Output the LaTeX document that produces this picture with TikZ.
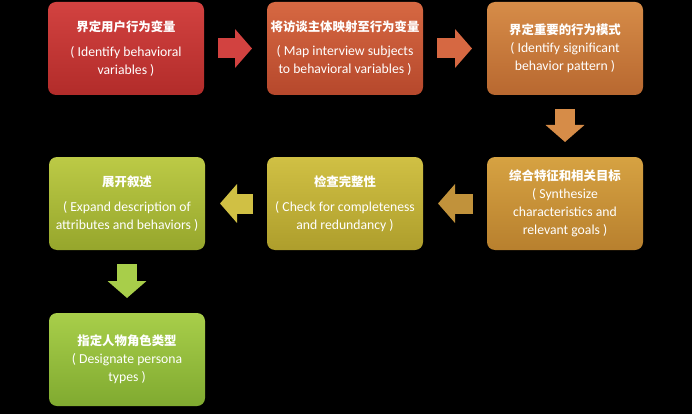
\documentclass[tikz,border=0pt]{standalone}
\usepackage{fontspec}
\setmainfont{Carlito}
\newfontfamily\cjk{Noto Sans CJK SC}
\usepackage{xcolor}
\usetikzlibrary{arrows.meta, positioning}

\definecolor{redtop}{RGB}{210,66,64}
\definecolor{redbot}{RGB}{178,44,42}
\definecolor{rusttop}{RGB}{214,104,66}
\definecolor{rustbot}{RGB}{182,72,44}
\definecolor{orangetop}{RGB}{214,140,72}
\definecolor{orangebot}{RGB}{184,104,48}
\definecolor{goldtop}{RGB}{214,162,66}
\definecolor{goldbot}{RGB}{184,128,46}
\definecolor{mustardtop}{RGB}{208,192,68}
\definecolor{mustardbot}{RGB}{174,158,44}
\definecolor{limetop}{RGB}{188,202,70}
\definecolor{limebot}{RGB}{150,166,44}
\definecolor{greentop}{RGB}{168,206,74}
\definecolor{greenbot}{RGB}{128,170,48}

\newcommand{\boxtitle}[1]{{\cjk\bfseries\fontsize{12.4}{14}\selectfont #1}}

\begin{document}
\begin{tikzpicture}[x=1pt, y=-1pt, node distance=63pt,
    box/.style={rectangle, rounded corners=8pt, minimum width=156pt, minimum height=93pt, inner sep=2pt, outer sep=0pt, align=center, text=white, font=\fontsize{13.7}{18}\selectfont, top color=#1top, bottom color=#1bot},
    flow/.style={line width=20pt, draw=#1, -{Triangle[width=38pt,length=17pt]}, shorten <=14pt, shorten >=15pt}]

    \fill[black] (0,0) rectangle (692,414);
    \useasboundingbox (0,0) rectangle (692,414);

    \node[box=red] (vars) at (126,48.5) {\boxtitle{界定用户行为变量}\\[7pt] ( Identify behavioral\\ variables )};
    \node[box=rust, right=63pt of vars] (map) {\boxtitle{将访谈主体映射至行为变量}\\[6pt] ( Map interview subjects\\ to behavioral variables )};
    \node[box=orange, right=64pt of map] (pattern) {\boxtitle{界定重要的行为模式}\\ ( Identify significant\\ behavior pattern )};
    \node[box=gold, below=62pt of pattern] (goals) {\boxtitle{综合特征和相关目标}\\ ( Synthesize\\ characteristics and\\ relevant goals )};
    \node[box=mustard, left=64pt of goals] (check) {\boxtitle{检查完整性}\\[7pt] ( Check for completeness\\ and redundancy )};
    \node[box=lime, left=62pt of check] (expand) {\boxtitle{展开叙述}\\[7pt] ( Expand description of\\ attributes and behaviors )};
    \node[box=green, below=63pt of expand] (types) {\boxtitle{指定人物角色类型}\\ ( Designate persona\\ types )};

    \draw[flow=redtop] (vars.east) -- (map.west);
    \draw[flow=rusttop] (map.east) -- (pattern.west);
    \draw[flow=orangetop] (pattern.south) -- (goals.north);
    \draw[flow=goldtop!90!black] (goals.west) -- (check.east);
    \draw[flow=mustardtop] (check.west) -- (expand.east);
    \draw[flow=greentop] (expand.south) -- (types.north);
\end{tikzpicture}
\end{document}
